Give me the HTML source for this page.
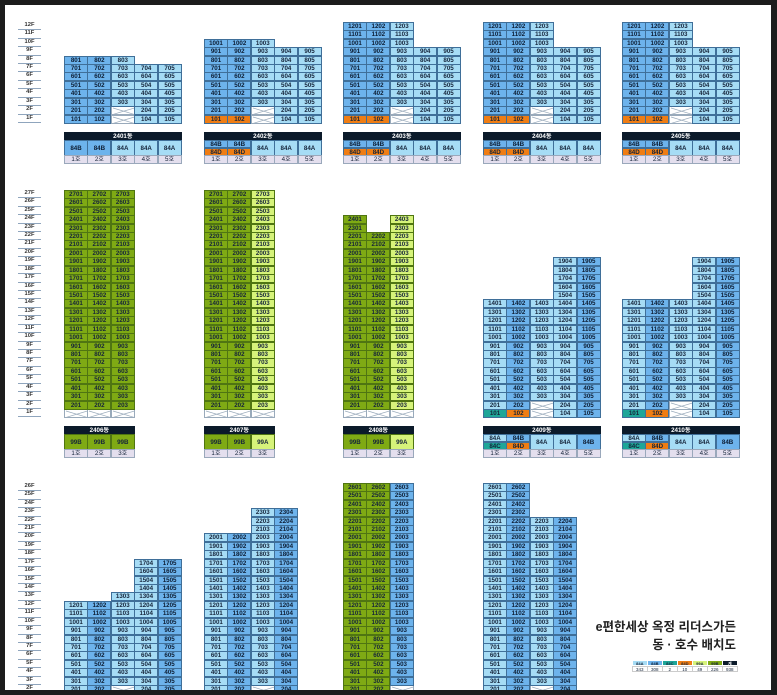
<!DOCTYPE html>
<html><head><meta charset="utf-8">
<style>
html,body{margin:0;padding:0;}
body{width:777px;height:695px;background:#1c1c1c;position:relative;overflow:hidden;font-family:"Liberation Sans","Noto Sans CJK KR",sans-serif;}
#p{position:absolute;left:5px;top:5px;width:766px;height:685px;background:#fff;overflow:hidden;}
.c{position:absolute;box-sizing:border-box;border:0.6px solid #3f6f99;font-size:6.2px;text-align:center;color:#15243a;font-weight:bold;overflow:hidden;}
.g{border-color:#4f7512;}
.fl{position:absolute;font-size:5.8px;color:#333;text-align:center;border-bottom:1px solid #8fa5bd;box-sizing:border-box;line-height:7px;font-weight:bold;}
.t{position:absolute;font-weight:bold;color:#222;text-align:right;}
</style></head><body><div id="p"></div>
<script>
const P=document.getElementById('p');const OX=5,OY=5;
const W=23.4,H=8.43;
const C={L:'#a6dcf5',D:'#6db3ec',O:'#ef7d14',T:'#1ea698',G:'#7faa14',Y:'#d6f37a',X:'#fff'};
function cell(x,y,w,h,bg,txt,cls){const d=document.createElement('div');d.className='c'+(cls?' '+cls:'');d.style.cssText=`left:${x-OX}px;top:${y-OY}px;width:${w+0.6}px;height:${h+0.6}px;background:${bg};line-height:${h}px`;d.textContent=txt;if(bg==C.D)d.style.color='#0d1d33';P.appendChild(d);return d;}
function xcell(x,y){const d=cell(x,y,W,H,'#fff','');d.innerHTML=`<svg width="${W}" height="${H}" style="position:absolute;left:0;top:0"><line x1="1" y1="1" x2="${W-1}" y2="${H-1}" stroke="#9ab" stroke-width="0.7"/><line x1="1" y1="${H-1}" x2="${W-1}" y2="1" stroke="#9ab" stroke-width="0.7"/></svg>`;d.style.borderColor='#9ab';}
function bld(x,bottom,cols){cols.forEach((c,i)=>{const min=c.min||1;for(let f=min;f<=c.top;f++){const y=bottom-f*H;const k=c.col(f);const cx=x+i*W;if(k=='X'){xcell(cx,y);continue;}cell(cx,y,W,H,C[k],String(f*100+i+1),(k=='G'||k=='Y')?'g':'');}});}
function info(x,y,name,types){const n=types.length;const hd=cell(x,y,n*W,8.5,'#0b1a2a',name);hd.style.color='#fff';hd.style.borderColor='#0b1a2a';
types.forEach((t,i)=>{const cx=x+i*W;if(t.length==4){cell(cx,y+8.5,W,7.5,C[t[1]],t[0]);cell(cx,y+16,W,7.5,C[t[3]],t[2]);}else{cell(cx,y+8.5,W,15,C[t[1]],t[0],(t[1]=='G'||t[1]=='Y')?'g':'');}
const h=cell(cx,y+23.5,W,8.5,'#e4dfee',(i+1)+'호');h.style.borderColor='#9aa8bb';h.style.fontWeight='normal';});}
function floors(bottom,n){for(let f=1;f<=n;f++){const d=document.createElement('div');d.className='fl';d.style.cssText=`left:${18-OX}px;top:${bottom-f*H-OY}px;width:23px;height:${H}px`;d.textContent=f+'F';P.appendChild(d);}}
const B1=123;floors(B1,12);
const s1=(f,i)=>{if(i==2&&f<=2)return'X';return i<2?'D':'L'};
bld(64,B1,[{top:8,col:f=>s1(f,0)},{top:8,col:f=>s1(f,1)},{top:8,col:f=>s1(f,2)},{top:7,col:f=>'L'},{top:7,col:f=>'L'}]);
info(64,131.5,'2401동',[['84B','D'],['84B','D'],['84A','L'],['84A','L'],['84A','L']]);
const xs=[204,343,483,622],tops=[10,12,12,12],names=['2402동','2403동','2404동','2405동'];
xs.forEach((x,j)=>{const o=(i)=>f=>{if(i<2&&f==1)return'O';return s1(f,i)};bld(x,B1,[{top:tops[j],col:o(0)},{top:tops[j],col:o(1)},{top:tops[j],col:o(2)},{top:9,col:f=>'L'},{top:9,col:f=>'L'}]);
info(x,131.5,names[j],[['84B','D','84D','O'],['84B','D','84D','O'],['84A','L'],['84A','L'],['84A','L']]);});
const B2=417.5;floors(B2,27);
const gx=(k)=>f=>f==1?'X':k;
bld(64,B2,[{top:27,col:gx('G')},{top:27,col:gx('G')},{top:27,col:gx('G')}]);
info(64,425.5,'2406동',[['99B','G'],['99B','G'],['99B','G']]);
bld(204,B2,[{top:27,col:gx('G')},{top:27,col:gx('G')},{top:27,col:gx('Y')}]);
info(204,425.5,'2407동',[['99B','G'],['99B','G'],['99A','Y']]);
bld(343,B2,[{top:24,col:gx('G')},{top:22,col:gx('G')},{top:24,col:gx('Y')}]);
info(343,425.5,'2408동',[['99B','G'],['99B','G'],['99A','Y']]);
[[483,'2409동'],[622,'2410동']].forEach(([x,n])=>{bld(x,B2,[{top:14,col:f=>f==1?'T':'L'},{top:14,col:f=>f==1?'O':'D'},{top:14,col:f=>f<=2?'X':'L'},{top:19,col:f=>'L'},{top:19,col:f=>'D'}]);
info(x,425.5,n,[['84A','L','84C','T'],['84B','D','84D','O'],['84A','L'],['84A','L'],['84B','D']]);});
const B3=702;floors(B3,26);
bld(64,B3,[{top:12,col:f=>'L'},{top:12,col:f=>'D'},{top:13,col:f=>f==2?'X':'L'},{top:17,col:f=>'L'},{top:17,col:f=>'D'}]);
bld(204,B3,[{top:20,col:f=>'L'},{top:20,col:f=>'D'},{top:23,col:f=>f==2?'X':'L'},{top:23,col:f=>'D'}]);
bld(343,B3,[{top:26,col:f=>'G'},{top:26,col:f=>'G'},{top:26,col:f=>f==2?'X':'D'}]);
bld(483,B3,[{top:26,col:f=>'L'},{top:26,col:f=>'D'},{top:22,col:f=>f==2?'X':'L'},{top:22,col:f=>'D'}]);
function t(txt,top,size){const d=document.createElement('div');d.className='t';d.style.cssText=`right:${777-737-OX}px;top:${top-OY}px;font-size:${size}px;line-height:${size+2}px;white-space:nowrap`;d.textContent=txt;P.appendChild(d);}
t('e편한세상 옥정 리더스가든',620,12.5);t('동 · 호수 배치도',638,12.5);
const lg=[['84A','#a6dcf5','343'],['84B','#6db3ec','308'],['84C','#1ea698','2'],['84D','#ef7d14','10'],['99A','#d6f37a','49'],['99B','#7faa14','226'],['계','#0b1a2a','938']];
lg.forEach((l,i)=>{const x=632+i*15;const a=cell(x,659.5,15,6,l[1],l[0]);a.style.fontSize='4px';a.style.borderColor='#fff';if(i==6)a.style.color='#fff';const b=cell(x,665.5,15,6,'#fff',l[2]);b.style.fontSize='4.5px';b.style.borderColor='#ccc';b.style.fontWeight='normal';});
</script></body></html>
